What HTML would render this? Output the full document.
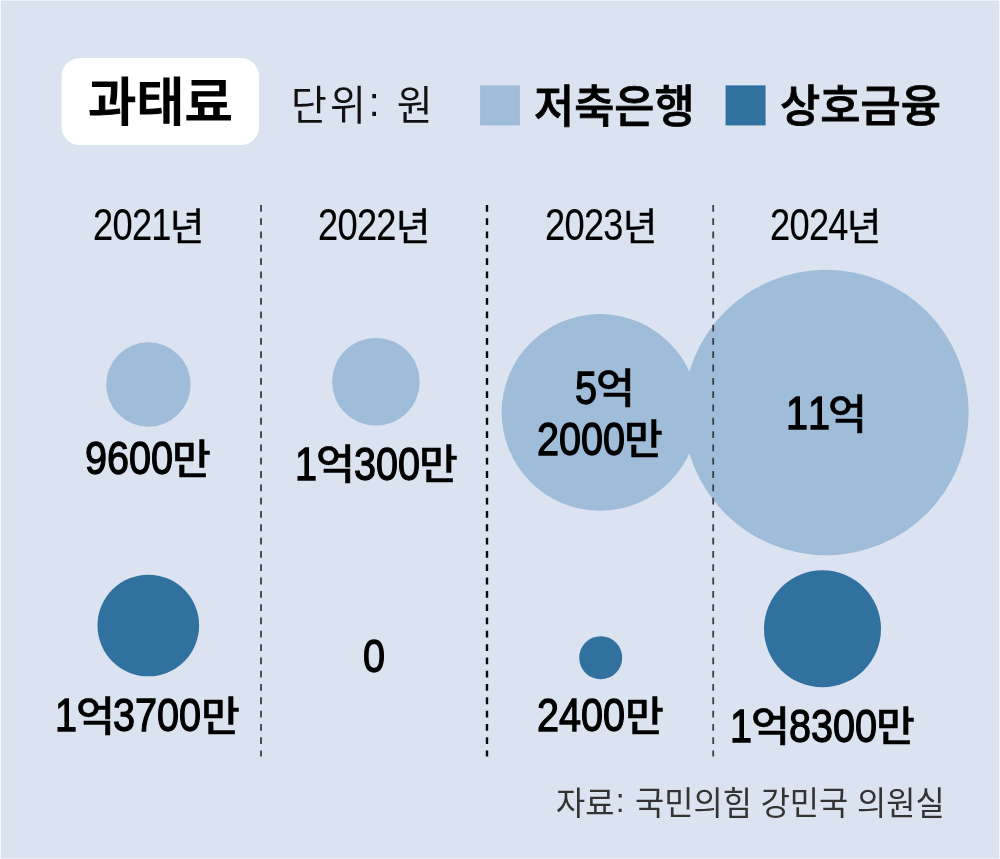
<!DOCTYPE html>
<html lang="ko">
<head>
<meta charset="utf-8">
<title>과태료</title>
<style>
html,body{margin:0;padding:0}
body{width:1000px;height:859px;overflow:hidden;background:#dbe2f0;position:relative;font-family:"Liberation Sans","Noto Sans CJK KR",sans-serif;color:#000}
#chart{position:absolute;left:0;top:0;width:1000px;height:859px;overflow:hidden;background:#dbe2f0}
#chart svg{position:absolute;left:0;top:0}
.t,h1,p,ul,li,header,section,footer{margin:0;padding:0;list-style:none}
.t span,.f{position:absolute;white-space:pre;line-height:1;transform-origin:0 0;display:block}
.d{font-family:"Liberation Sans",sans-serif;font-kerning:none}
.c{position:relative;top:-0.11em}
.k,.f{font-family:"Liberation Sans","Noto Sans CJK KR",sans-serif;font-kerning:none}
.yr .d{font-size:43.70px;font-weight:400;transform:scaleX(0.8300);letter-spacing:-0.02em;color:#000;-webkit-text-stroke:0.15px #000}
.yr .k{font-size:38.00px;font-weight:400;transform:scaleX(0.9800);color:#000;-webkit-text-stroke:0.5px #000}
.val .d{font-size:47.00px;font-weight:400;transform:scaleX(0.8430);letter-spacing:0.0em;color:#000;-webkit-text-stroke:1.3px #000}
.val .k{font-size:41.00px;font-weight:500;transform:scaleX(1.0300);color:#000;-webkit-text-stroke:0.5px #000}
</style>
</head>
<body>
<div id="chart">
<svg width="1000" height="859" viewBox="0 0 1000 859">
<rect x="0" y="0" width="1000" height="1" fill="#ecf0fa"/>
<rect x="0" y="858" width="1000" height="1" fill="#e4e9f5"/>
<rect x="0" y="0" width="1" height="859" fill="#f6f9fe"/>
<rect x="999" y="0" width="1" height="859" fill="#f4f7fe"/>
<rect x="61.6" y="58.1" width="197.4" height="86.9" rx="18" ry="18" fill="#fff"/>
<rect x="480.1" y="85.4" width="39.8" height="40" fill="#9fbcd9"/>
<rect x="725.6" y="85.4" width="40" height="40" fill="#3171a0"/>
<circle cx="148.4" cy="384.5" r="42.2" fill="#9fbcd9"/>
<circle cx="375.9" cy="381.8" r="43.8" fill="#9fbcd9"/>
<circle cx="600.0" cy="412.4" r="98.3" fill="#9fbcd9"/>
<circle cx="826.0" cy="412.5" r="142.7" fill="#9fbcd9"/>
<circle cx="148.3" cy="625.5" r="50.8" fill="#3171a0"/>
<circle cx="600.7" cy="657.7" r="21.5" fill="#3171a0"/>
<circle cx="822.5" cy="628.8" r="58.5" fill="#3171a0"/>
<line x1="261.0" y1="204.9" x2="261.0" y2="756.6" stroke="#3a3e48" stroke-width="1.8" stroke-dasharray="6.8 6.51"/>
<line x1="487.0" y1="204.9" x2="487.0" y2="756.6" stroke="#0a0a0a" stroke-width="2.4" stroke-dasharray="6.8 6.51"/>
<line x1="713.2" y1="204.9" x2="713.2" y2="756.6" stroke="#3a3e48" stroke-width="1.8" stroke-dasharray="6.8 6.51"/>
</svg>
<header id="head">
<h1 class="f" id="title" style="left:87.80px;top:77.13px;font-size:52.53px;font-weight:500;color:#000;transform:scaleX(0.9986);-webkit-text-stroke:1.1px #000">과태료</h1>
<p class="f" id="unit" style="left:290.58px;top:86.32px;font-size:40.39px;font-weight:400;color:#111;transform:scaleX(0.9633);letter-spacing:0.08em">단위<span class="c">:</span> 원</p>
<ul id="legend">
<li class="f" id="lg1" style="left:534.36px;top:84.79px;font-size:45.44px;font-weight:500;color:#000;transform:scaleX(0.9611);-webkit-text-stroke:0.8px #000">저축은행</li>
<li class="f" id="lg2" style="left:779.69px;top:84.76px;font-size:44.69px;font-weight:500;color:#000;transform:scaleX(0.9794);-webkit-text-stroke:0.8px #000">상호금융</li>
</ul>
</header>
<section id="years">
<div class="t yr" id="y2021"><span class="d" style="left:92.94px;top:202.75px">2021</span><span class="k" style="left:170.32px;top:207.53px">년</span></div>
<div class="t yr" id="y2022"><span class="d" style="left:318.19px;top:202.75px">2022</span><span class="k" style="left:395.57px;top:207.53px">년</span></div>
<div class="t yr" id="y2023"><span class="d" style="left:545.39px;top:202.75px">2023</span><span class="k" style="left:622.77px;top:207.53px">년</span></div>
<div class="t yr" id="y2024"><span class="d" style="left:769.69px;top:202.75px">2024</span><span class="k" style="left:847.07px;top:207.53px">년</span></div>
</section>
<section id="savings">
<div class="t val" id="v1"><span class="d" style="left:84.92px;top:433.97px">9600</span><span class="k" style="left:172.46px;top:439.89px">만</span></div>
<div class="t val" id="v2"><span class="d" style="left:294.93px;top:439.57px">1</span><span class="k" style="left:316.36px;top:444.99px">억</span><span class="d" style="left:353.52px;top:439.57px">300</span><span class="k" style="left:419.02px;top:444.99px">만</span></div>
<div class="two">
<div class="t val" id="v3a"><span class="d" style="left:574.82px;top:363.57px">5</span><span class="k" style="left:596.25px;top:368.99px">억</span></div>
<div class="t val" id="v3b"><span class="d" style="left:536.92px;top:414.87px">2000</span><span class="k" style="left:624.46px;top:420.29px">만</span></div>
</div>
<div class="t val" id="v4"><span class="d" style="left:786.33px;top:389.27px">11</span><span class="k" style="left:828.20px;top:394.69px">억</span></div>
</section>
<section id="mutual">
<div class="t val" id="v5"><span class="d" style="left:54.73px;top:691.07px">1</span><span class="k" style="left:76.16px;top:697.09px">억</span><span class="d" style="left:113.32px;top:691.07px">3700</span><span class="k" style="left:200.86px;top:697.09px">만</span></div>
<div class="t val" id="v6"><span class="d" style="left:363.22px;top:631.57px">0</span></div>
<div class="t val" id="v7"><span class="d" style="left:537.02px;top:691.07px">2400</span><span class="k" style="left:624.56px;top:697.09px">만</span></div>
<div class="t val" id="v8"><span class="d" style="left:730.03px;top:702.07px">1</span><span class="k" style="left:751.46px;top:707.09px">억</span><span class="d" style="left:788.62px;top:702.07px">8300</span><span class="k" style="left:876.16px;top:707.09px">만</span></div>
</section>
<footer id="foot">
<p class="f" id="src" style="left:556.40px;top:788.23px;font-size:32.55px;font-weight:400;color:#333;transform:scaleX(0.9752)">자료<span class="c" style="margin:0 .05em 0 .045em">:</span> 국민의힘 강민국 의원실</p>
</footer>
</div>
</body>
</html>
